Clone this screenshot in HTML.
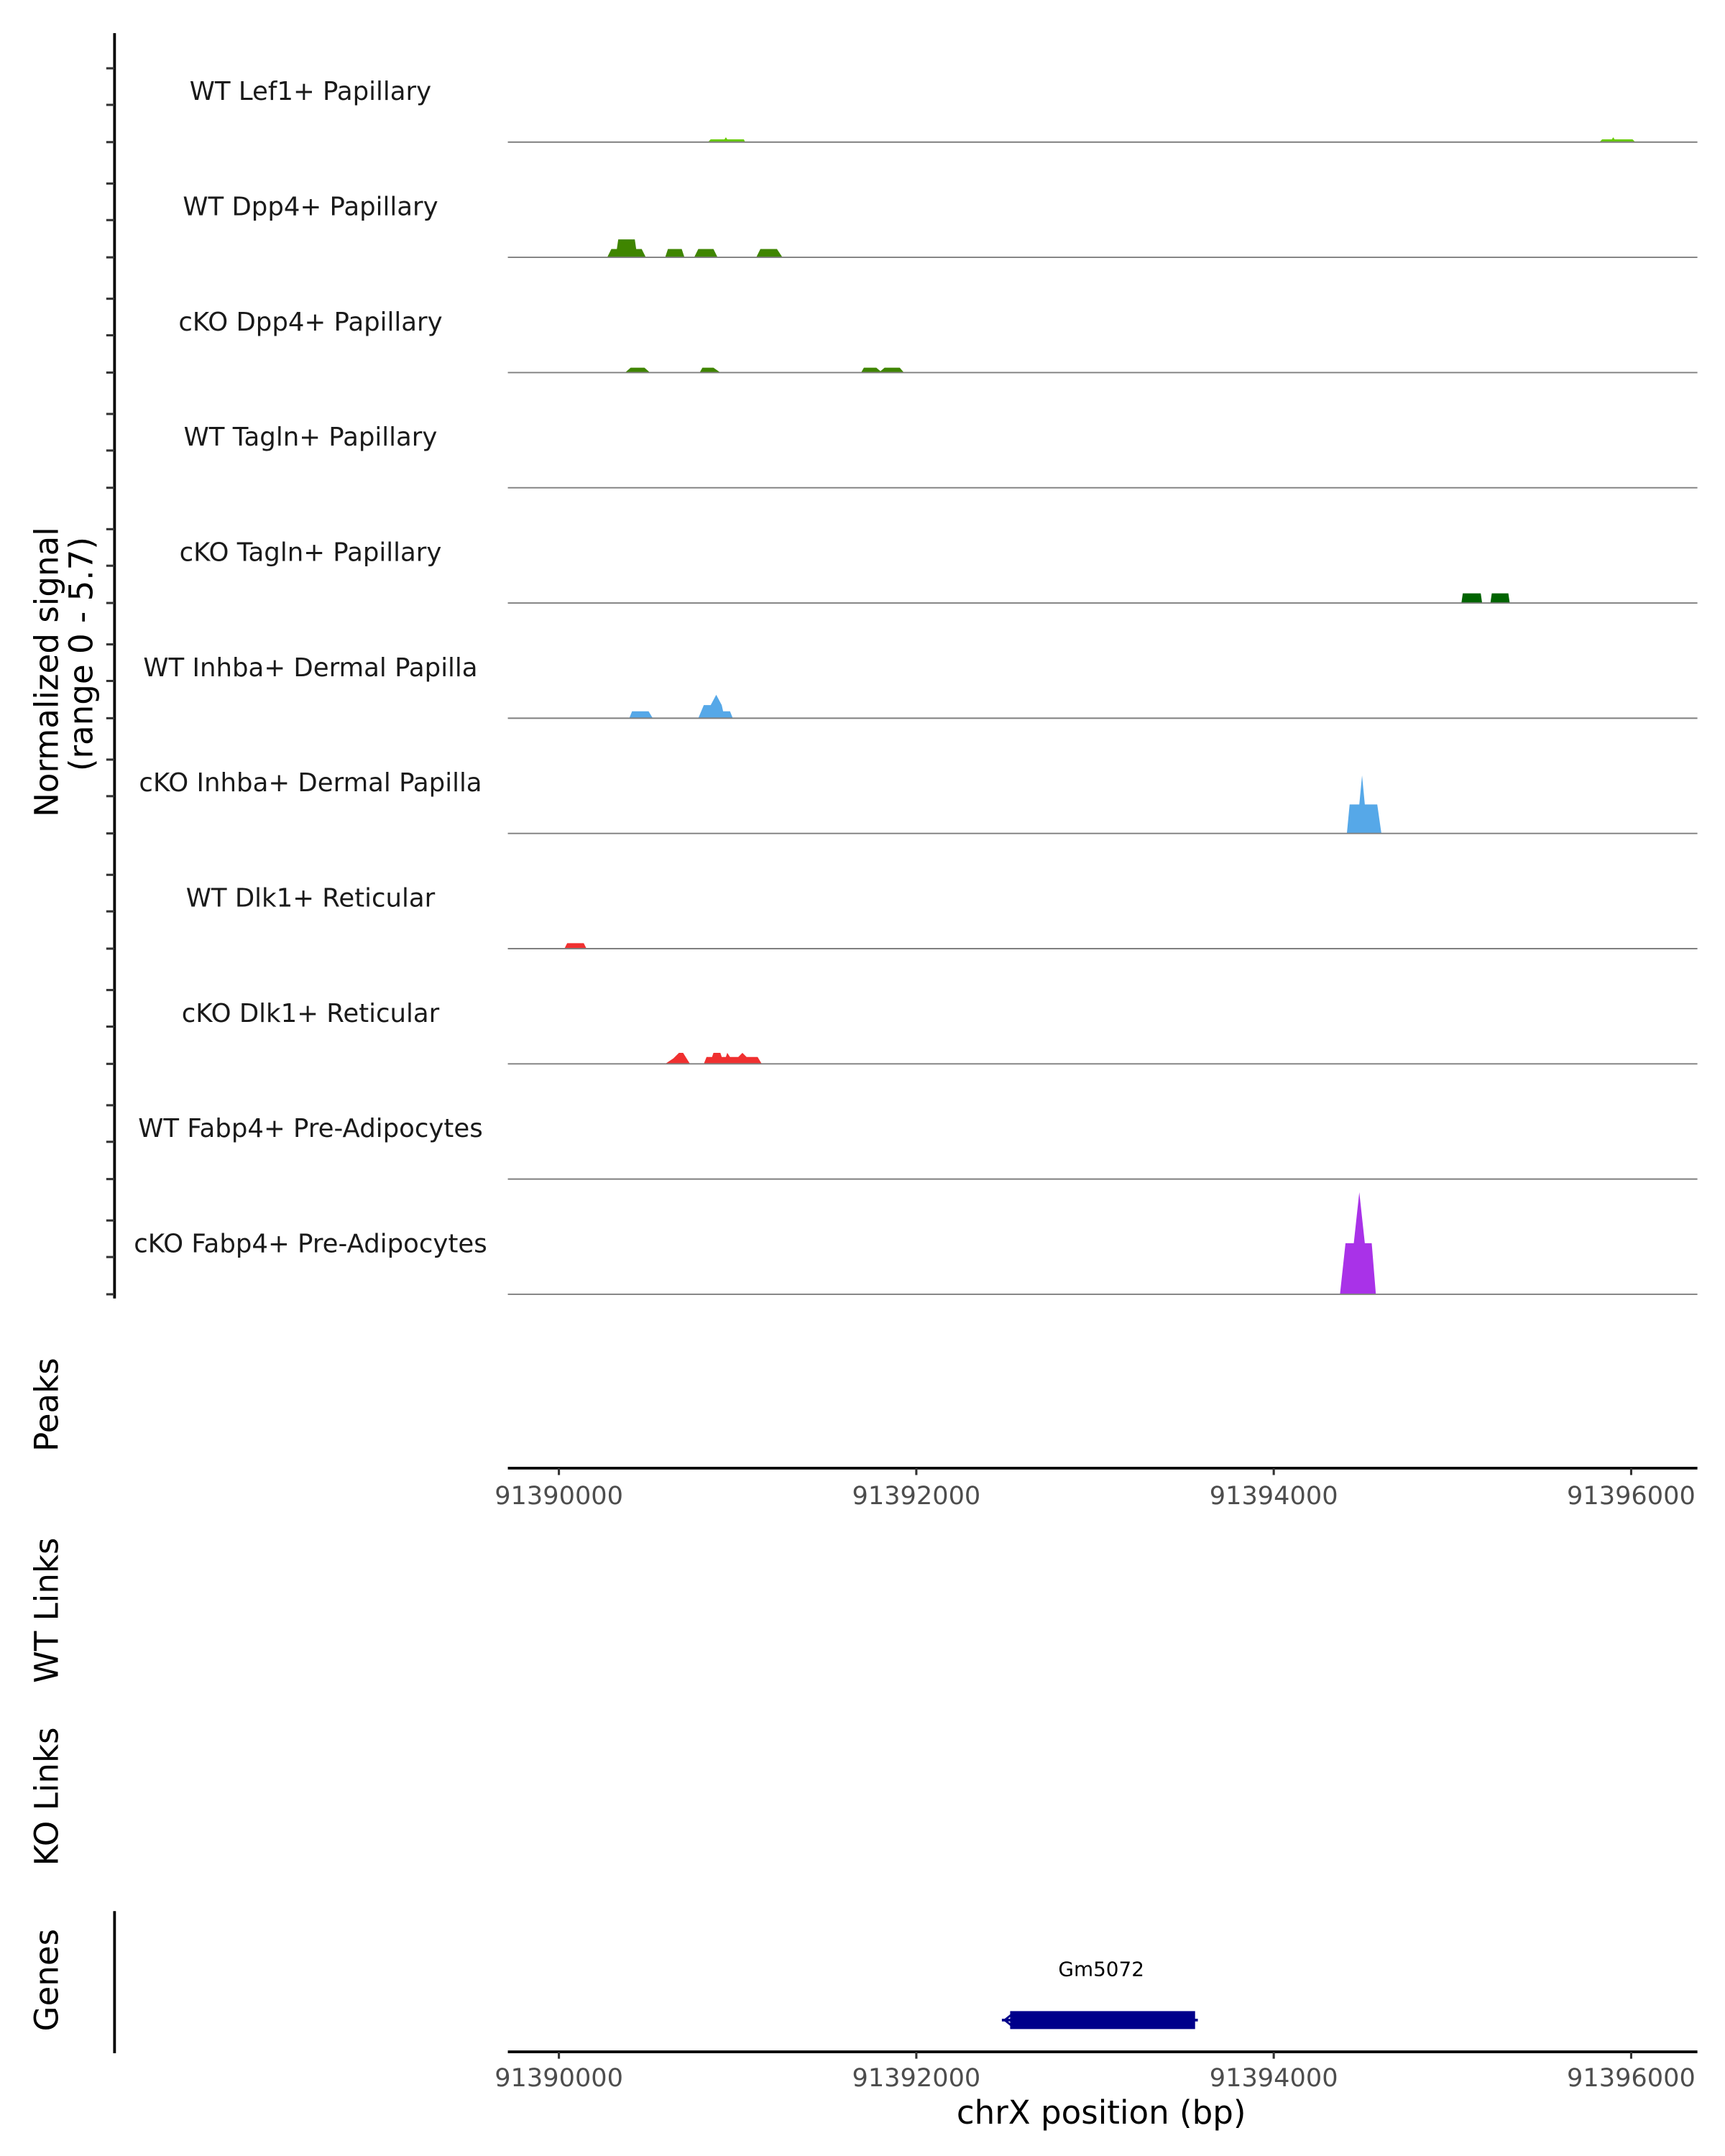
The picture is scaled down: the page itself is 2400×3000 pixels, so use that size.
<!DOCTYPE html>
<html><head><meta charset="utf-8"><style>html,body{margin:0;padding:0;background:#fff}svg{display:block}</style></head>
<body>
<svg width="2400" height="3000" viewBox="0 0 1250 1562.5" xmlns="http://www.w3.org/2000/svg" font-family="'DejaVu Sans','Liberation Sans',sans-serif">
<rect width="1250" height="1562.5" fill="#fff"/>
<line x1="83" y1="24" x2="83" y2="941" stroke="#000" stroke-width="2"/>
<g stroke="#333" stroke-width="1.6">
<line x1="77" x2="83" y1="49.5" y2="49.5"/><line x1="77" x2="83" y1="76" y2="76"/><line x1="77" x2="83" y1="103" y2="103"/>
<line x1="77" x2="83" y1="133" y2="133"/><line x1="77" x2="83" y1="159.5" y2="159.5"/><line x1="77" x2="83" y1="186.5" y2="186.5"/>
<line x1="77" x2="83" y1="216.5" y2="216.5"/><line x1="77" x2="83" y1="243" y2="243"/><line x1="77" x2="83" y1="270" y2="270"/>
<line x1="77" x2="83" y1="300" y2="300"/><line x1="77" x2="83" y1="326.5" y2="326.5"/><line x1="77" x2="83" y1="353.5" y2="353.5"/>
<line x1="77" x2="83" y1="383.5" y2="383.5"/><line x1="77" x2="83" y1="410" y2="410"/><line x1="77" x2="83" y1="437" y2="437"/>
<line x1="77" x2="83" y1="467" y2="467"/><line x1="77" x2="83" y1="493.5" y2="493.5"/><line x1="77" x2="83" y1="520.5" y2="520.5"/>
<line x1="77" x2="83" y1="550.5" y2="550.5"/><line x1="77" x2="83" y1="577" y2="577"/><line x1="77" x2="83" y1="604" y2="604"/>
<line x1="77" x2="83" y1="634" y2="634"/><line x1="77" x2="83" y1="660.5" y2="660.5"/><line x1="77" x2="83" y1="687.5" y2="687.5"/>
<line x1="77" x2="83" y1="717.5" y2="717.5"/><line x1="77" x2="83" y1="744" y2="744"/><line x1="77" x2="83" y1="771" y2="771"/>
<line x1="77" x2="83" y1="801" y2="801"/><line x1="77" x2="83" y1="827.5" y2="827.5"/><line x1="77" x2="83" y1="854.5" y2="854.5"/>
<line x1="77" x2="83" y1="884.5" y2="884.5"/><line x1="77" x2="83" y1="911" y2="911"/><line x1="77" x2="83" y1="938" y2="938"/>
</g>
<g font-size="18.5" fill="#1a1a1a" text-anchor="middle">
<text x="225" y="72.5">WT Lef1+ Papillary</text>
<text x="225" y="156">WT Dpp4+ Papillary</text>
<text x="225" y="239.5">cKO Dpp4+ Papillary</text>
<text x="225" y="323">WT Tagln+ Papillary</text>
<text x="225" y="406.5">cKO Tagln+ Papillary</text>
<text x="225" y="490">WT Inhba+ Dermal Papilla</text>
<text x="225" y="573.5">cKO Inhba+ Dermal Papilla</text>
<text x="225" y="657">WT Dlk1+ Reticular</text>
<text x="225" y="740.5">cKO Dlk1+ Reticular</text>
<text x="225" y="824">WT Fabp4+ Pre-Adipocytes</text>
<text x="225" y="907.5">cKO Fabp4+ Pre-Adipocytes</text>
</g>
<polygon fill="#66CC00" points="513,103 515,101 525,101 526,99.5 527,101 539,101 540,103"/>
<polygon fill="#66CC00" points="1159,103 1161,101 1168,101 1169,99.5 1170,101 1183,101 1185,103"/>
<polygon fill="#3F8500" points="440,186.5 443,180.5 447,180.5 448,173.5 460,173.5 461,180.5 465,180.5 468,186.5"/>
<polygon fill="#3F8500" points="482,186.5 484,180.5 494,180.5 496,186.5"/>
<polygon fill="#3F8500" points="503,186.5 506,180.5 517,180.5 520,186.5"/>
<polygon fill="#3F8500" points="548,186.5 551,180.5 563,180.5 567,186.5"/>
<polygon fill="#3F8500" points="453,270 457,266.5 467,266.5 471,270"/>
<polygon fill="#3F8500" points="507,270 509,266.5 517,266.5 522,270"/>
<polygon fill="#3F8500" points="624,270 626,266.5 635,266.5 638,269 641,266.5 652,266.5 655,270"/>
<polygon fill="#006400" points="1059,437 1060,430 1073,430 1074,437"/>
<polygon fill="#006400" points="1080,437 1081,430 1093,430 1094,437"/>
<polygon fill="#56A8E8" points="456,520.5 458,515.5 470,515.5 473,520.5"/>
<polygon fill="#56A8E8" points="506,520.5 510,511 515,511 519,503.5 523,511 524,515.5 529,515.5 531,520.5"/>
<polygon fill="#56A8E8" points="976,604 978,583 985,583 987,562 989,583 998,583 1001,604"/>
<polygon fill="#F03030" points="409,687.5 411,683.5 423,683.5 425,687.5"/>
<polygon fill="#F03030" points="482,771 488,767 492,763 495,763 500,771"/>
<polygon fill="#F03030" points="510,771 512,766 516,766 517,763 522,763 523,766 526,766 527,763 529,766 535,766 538,763 541,766 549,766 552,771"/>
<polygon fill="#A932E8" points="971,938 975,901 981,901 985,864 989,901 994,901 997,938"/>
<g stroke="#7f7f7f" stroke-width="1">
<line x1="368" x2="1230" y1="103" y2="103"/><line x1="368" x2="1230" y1="186.5" y2="186.5"/><line x1="368" x2="1230" y1="270" y2="270"/>
<line x1="368" x2="1230" y1="353.5" y2="353.5"/><line x1="368" x2="1230" y1="437" y2="437"/><line x1="368" x2="1230" y1="520.5" y2="520.5"/>
<line x1="368" x2="1230" y1="604" y2="604"/><line x1="368" x2="1230" y1="687.5" y2="687.5"/><line x1="368" x2="1230" y1="771" y2="771"/>
<line x1="368" x2="1230" y1="854.5" y2="854.5"/><line x1="368" x2="1230" y1="938" y2="938"/>
</g>
<g font-size="23.5" fill="#000" text-anchor="middle">
<text transform="translate(42,487) rotate(-90)">Normalized signal</text>
<text transform="translate(67,474) rotate(-90)">(range 0 - 5.7)</text>
<text transform="translate(42,1018) rotate(-90)">Peaks</text>
<text transform="translate(42,1167) rotate(-90)">WT Links</text>
<text transform="translate(42,1302) rotate(-90)">KO Links</text>
<text transform="translate(42,1435) rotate(-90)">Genes</text>
</g>
<line x1="368" x2="1230" y1="1064" y2="1064" stroke="#000" stroke-width="2"/>
<g stroke="#333" stroke-width="1.6">
<line x1="405" x2="405" y1="1064" y2="1069"/><line x1="664" x2="664" y1="1064" y2="1069"/><line x1="923" x2="923" y1="1064" y2="1069"/><line x1="1182" x2="1182" y1="1064" y2="1069"/>
</g>
<g font-size="18.3" fill="#4d4d4d" text-anchor="middle">
<text x="405" y="1090">91390000</text><text x="664" y="1090">91392000</text><text x="923" y="1090">91394000</text><text x="1182" y="1090">91396000</text>
</g>
<line x1="83" y1="1385" x2="83" y2="1488" stroke="#000" stroke-width="2"/>
<text x="798" y="1432" font-size="14.5" text-anchor="middle" fill="#000">Gm5072</text>
<rect x="732" y="1457.5" width="134" height="13" fill="#00008B"/>
<line x1="726" x2="868" y1="1464" y2="1464" stroke="#00008B" stroke-width="2"/>
<path d="M733,1460 L728,1464 L733,1468" stroke="#00008B" stroke-width="1.5" fill="none"/>
<line x1="368" x2="1230" y1="1487" y2="1487" stroke="#000" stroke-width="2"/>
<g stroke="#333" stroke-width="1.6">
<line x1="405" x2="405" y1="1487" y2="1492"/><line x1="664" x2="664" y1="1487" y2="1492"/><line x1="923" x2="923" y1="1487" y2="1492"/><line x1="1182" x2="1182" y1="1487" y2="1492"/>
</g>
<g font-size="18.3" fill="#4d4d4d" text-anchor="middle">
<text x="405" y="1512">91390000</text><text x="664" y="1512">91392000</text><text x="923" y="1512">91394000</text><text x="1182" y="1512">91396000</text>
</g>
<text x="798" y="1539" font-size="23.5" text-anchor="middle" fill="#000">chrX position (bp)</text>
</svg>
</body></html>
